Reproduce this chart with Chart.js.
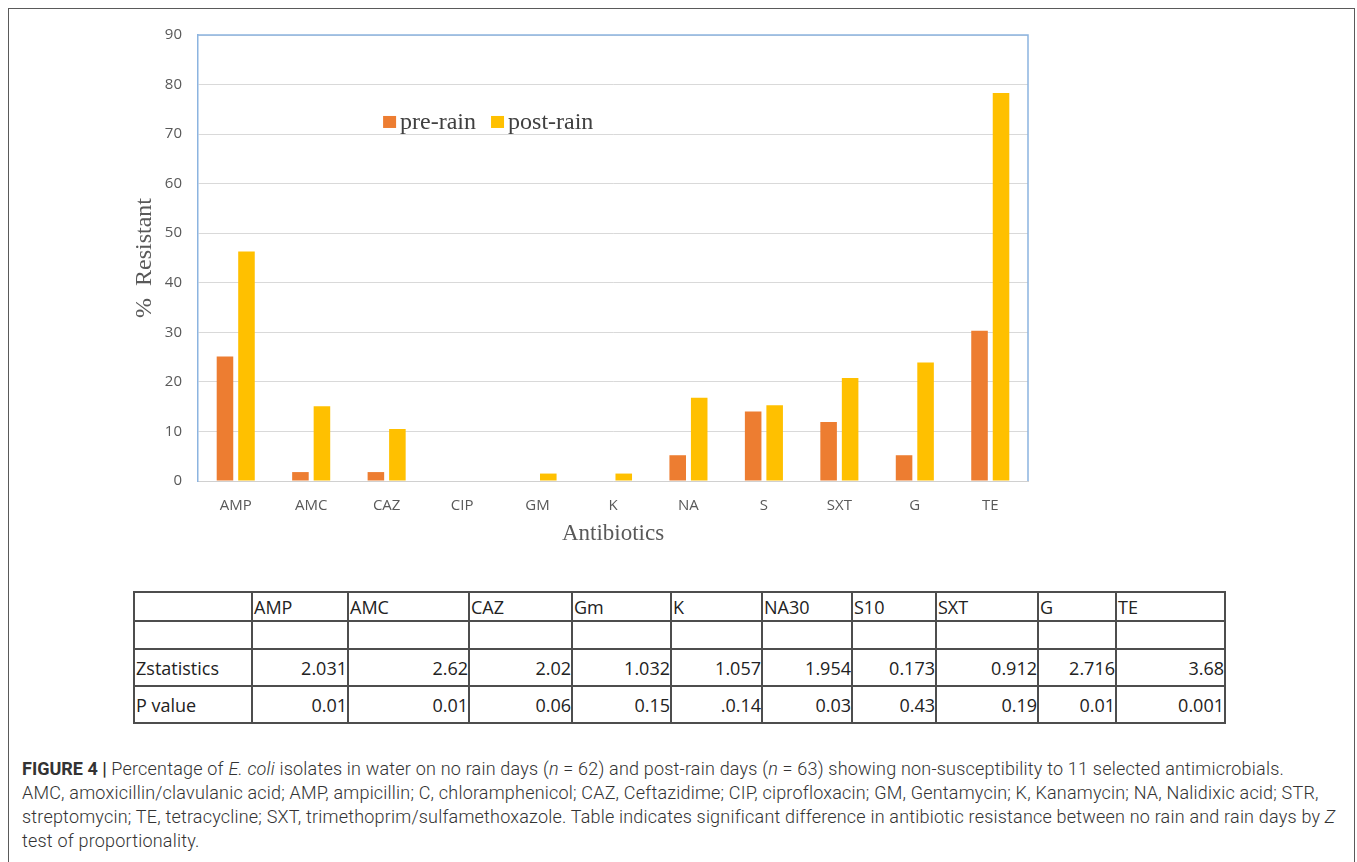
<!DOCTYPE html>
<html>
<head>
<meta charset="utf-8">
<title>Antibiotic resistance of E. coli isolates, pre-rain vs post-rain</title>
<script src="https://cdn.jsdelivr.net/npm/chart.js@4.4.1/dist/chart.umd.min.js"></script>
<style>
  html, body { margin: 0; padding: 0; background: #fff; width: 1357px; height: 862px; overflow: hidden; }
  #frame { position: absolute; left: 8px; top: 8px; width: 1347px; height: 900px; border: 1px solid #5a5a5a; box-sizing: border-box; }
  #chartBox { position: absolute; left: 100px; top: 10px; width: 960px; height: 560px; }
  #stats { position: absolute; left: 133px; top: 591px; border-collapse: collapse; table-layout: fixed;
           font-family: "Open Sans", sans-serif; font-size: 18px; color: #222; }
  #stats td { border: 2px solid #4d4d4d; padding: 0 0 0 1px; white-space: nowrap; overflow: hidden; line-height: 1; }
  #stats td.num { text-align: right; padding: 0; }
  #caption { position: absolute; left: 22px; top: 757px; font-family: Roboto, "Liberation Sans", sans-serif;
             font-weight: 300; font-size: 18px; letter-spacing: 0.2px; line-height: 24px; color: #333; white-space: nowrap; }
  #caption b { font-weight: 700; letter-spacing: 0; }
</style>
</head>
<body>
<div id="frame"></div>
<div id="chartBox"><canvas id="chart"></canvas></div>
<table id="stats"></table>
<div id="caption">
  <b>FIGURE 4 |</b> Percentage of <i>E. coli</i> isolates in water on no rain days (<i>n</i> = 62) and post-rain days (<i>n</i> = 63) showing non-susceptibility to 11 selected antimicrobials.<br>
  AMC, amoxicillin/clavulanic acid; AMP, ampicillin; C, chloramphenicol; CAZ, Ceftazidime; CIP, ciprofloxacin; GM, Gentamycin; K, Kanamycin; NA, Nalidixic acid; STR,<br>
  streptomycin; TE, tetracycline; SXT, trimethoprim/sulfamethoxazole. Table indicates significant difference in antibiotic resistance between no rain and rain days by <i>Z</i><br>
  test of proportionality.
</div>
<script>
// Antibiotics on the x axis
const antibiotics = ['AMP', 'AMC', 'CAZ', 'CIP', 'GM', 'K', 'NA', 'S', 'SXT', 'G', 'TE'];
// % resistant isolates per antibiotic
const preRain  = [25.1, 1.8, 1.8, 0, 0, 0, 5.2, 14.0, 11.9, 5.2, 30.3];
const postRain = [46.3, 15.1, 10.5, 0, 1.5, 1.5, 16.8, 15.3, 20.8, 23.9, 78.3];
const seriesNames = ['pre-rain', 'post-rain'];
// Y axis range
const yMin = 0, yMax = 90, yStep = 10;

// Z test table
const tableHeaders = ['AMP', 'AMC', 'CAZ', 'Gm', 'K', 'NA30', 'S10', 'SXT', 'G', 'TE'];
const zStatistics  = ['2.031', '2.62', '2.02', '1.032', '1.057', '1.954', '0.173', '0.912', '2.716', '3.68'];
const pValues      = ['0.01', '0.01', '0.06', '0.15', '.0.14', '0.03', '0.43', '0.19', '0.01', '0.001'];
const rowLabels    = ['Zstatistics', 'P value'];

// ---- table ----
const colWidths = [118, 96, 121, 103, 99, 91, 90, 84, 102, 78, 109];
const rowHeights = [29, 28, 37, 37];
(function buildTable() {
  const t = document.getElementById('stats');
  const cg = document.createElement('colgroup');
  colWidths.forEach(w => { const c = document.createElement('col'); c.style.width = w + 'px'; cg.appendChild(c); });
  t.appendChild(cg);
  const addRow = (cells, h, numeric) => {
    const tr = document.createElement('tr');
    tr.style.height = h + 'px';
    cells.forEach((txt, i) => {
      const td = document.createElement('td');
      td.textContent = txt;
      if (numeric && i > 0) td.className = 'num';
      tr.appendChild(td);
    });
    t.appendChild(tr);
  };
  addRow([''].concat(tableHeaders), rowHeights[0], false);
  addRow(new Array(tableHeaders.length + 1).fill(''), rowHeights[1], false);
  addRow([rowLabels[0]].concat(zStatistics), rowHeights[2], true);
  addRow([rowLabels[1]].concat(pValues), rowHeights[3], true);
})();

// ---- chart ----
const axisGrey = '#595959';
const frameBlue = '#8cb4e0';

// blue frame on the top and right of the plot area
const framePlugin = {
  id: 'plotFrame',
  beforeDatasetsDraw(chart) {
    const { ctx, chartArea: a } = chart;
    ctx.save();
    ctx.strokeStyle = frameBlue;
    ctx.lineWidth = 1.5;
    ctx.beginPath();
    ctx.moveTo(a.left, a.top);
    ctx.lineTo(a.right, a.top);
    ctx.lineTo(a.right, a.bottom);
    ctx.stroke();
    ctx.restore();
  }
};

// legend drawn inside the plot area
const innerLegend = {
  id: 'innerLegend',
  afterDatasetsDraw(chart) {
    const { ctx, chartArea: a } = chart;
    ctx.save();
    ctx.font = '24px "Liberation Serif", serif';
    ctx.textBaseline = 'middle';
    let x = a.left + a.width * 0.223;
    const yc = a.top + a.height * 0.195;
    chart.data.datasets.forEach(ds => {
      ctx.fillStyle = ds.backgroundColor;
      ctx.fillRect(x, yc - 6, 13, 12);
      x += 17;
      ctx.fillStyle = '#404040';
      ctx.fillText(ds.label, x, yc + 1);
      x += ctx.measureText(ds.label).width + 15;
    });
    ctx.restore();
  }
};

new Chart(document.getElementById('chart'), {
  type: 'bar',
  data: {
    labels: antibiotics,
    datasets: [
      { label: seriesNames[0], data: preRain, backgroundColor: '#ED7D31', categoryPercentage: 0.57, barPercentage: 0.77 },
      { label: seriesNames[1], data: postRain, backgroundColor: '#FFC000', categoryPercentage: 0.57, barPercentage: 0.77 }
    ]
  },
  options: {
    responsive: true,
    maintainAspectRatio: false,
    animation: false,
    layout: { padding: { left: 0, right: 32, top: 23, bottom: 9 } },
    plugins: { legend: { display: false }, tooltip: { enabled: false } },
    scales: {
      x: {
        grid: { display: false },
        border: { display: true, color: '#d0d0d0', width: 1 },
        ticks: { color: axisGrey, font: { family: 'Open Sans', size: 15 }, padding: 8, maxRotation: 0 },
        title: { display: true, text: 'Antibiotics', color: axisGrey,
                 font: { family: 'Liberation Serif', size: 23 }, padding: { top: 0, bottom: 13 } },
        afterFit(s) { s.height = 80; }
      },
      y: {
        min: yMin, max: yMax,
        grid: { color: '#d9d9d9', drawTicks: false, lineWidth: 1 },
        border: { display: true, color: frameBlue, width: 1.5 },
        ticks: { stepSize: yStep, color: axisGrey, font: { family: 'Open Sans', size: 15 }, padding: 16 },
        title: { display: true, text: '%  Resistant', color: axisGrey,
                 font: { family: 'Liberation Serif', size: 24 }, padding: { top: 30, bottom: 0 } },
        afterFit(s) { s.width = 98; }
      }
    }
  },
  plugins: [framePlugin, innerLegend]
});
</script>
</body>
</html>
